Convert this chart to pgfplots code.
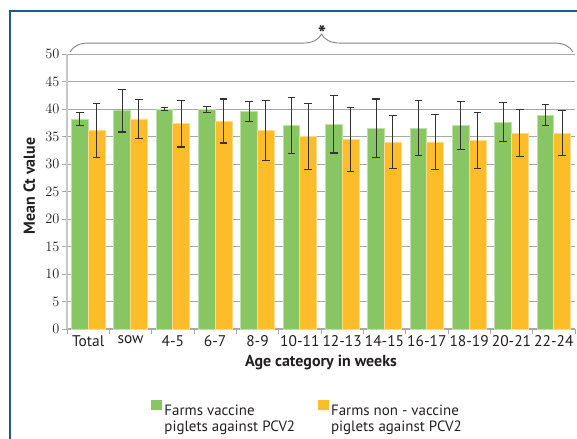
\documentclass[border=0pt]{standalone}
\usepackage{pgfplots}
\usepackage{pgfplotstable}
\pgfplotsset{compat=1.18}
\usepackage{fontspec}
\setmainfont{PT Sans}
\usetikzlibrary{decorations.pathreplacing}
\definecolor{vgreen}{HTML}{88C664}
\definecolor{vorange}{HTML}{FDBD2A}
\definecolor{frameblue}{HTML}{1B5A8C}
\definecolor{gridgray}{HTML}{A8A8A8}
\definecolor{txt}{HTML}{231F20}

\pgfplotstableread{
x y e
0 38.2 1.2
1 39.7 3.9
2 40.0 0.3
3 39.9 0.5
4 39.5 1.8
5 37.0 5.1
6 37.2 5.2
7 36.5 5.3
8 36.5 5.0
9 37.0 4.35
10 37.6 3.55
11 38.9 1.95
}\vacc

\pgfplotstableread{
x y e
0 36.1 4.9
1 38.2 3.55
2 37.3 4.2
3 37.8 4.0
4 36.1 5.4
5 35.0 6.0
6 34.5 5.8
7 34.0 4.75
8 34.0 4.95
9 34.3 5.1
10 35.6 4.3
11 35.6 4.1
}\nonvacc

\begin{document}
\begin{tikzpicture}[x=1bp,y=1bp]
\path[use as bounding box] (0,0) rectangle (577,439);
\draw[frameblue, line width=2.5bp] (10,0) -- (10,428) -- (578,428);
\begin{axis}[
  at={(67bp,110bp)}, anchor=south west,
  scale only axis, width=508bp, height=275bp,
  ybar=0pt, bar width=0.395,
  xmin=-0.5, xmax=11.5, ymin=0, ymax=50,
  ytick={0,5,...,50},
  xtick={-0.5,0.5,...,11.5}, xticklabels={},
  extra x ticks={0,1,...,11},
  extra x tick labels={Total,sow,4-5,6-7,8-9,10-11,12-13,14-15,16-17,18-19,20-21,22-24},
  extra x tick style={major tick length=0pt, tick label style={yshift=-3bp}},
  axis lines=left, axis line style={-},
  y axis line style={draw=black!22, line width=2bp},
  x axis line style={draw=gridgray, line width=1bp},
  tick align=outside, major tick length=5bp,
  tick style={draw=gridgray, line width=0.8bp},
  ymajorgrids, grid style={draw=gridgray, line width=0.8bp},
  tick label style={font=\fontsize{15.5}{18}\selectfont, text=txt},
  yticklabel style={xshift=1bp},
  ylabel={Mean Ct value},
  ylabel style={font=\fontsize{16}{18}\selectfont\bfseries, text=txt, at={(axis description cs:-0.074,0.52)}, anchor=center},
  xlabel={Age category in weeks},
  xlabel style={font=\fontsize{16}{18}\selectfont\bfseries, text=txt, at={(axis description cs:0.5,-0.122)}, anchor=center},
  legend columns=2,
  legend cell align=left,
  legend style={at={(axis description cs:0.16,-0.252)}, anchor=north west, draw=none, fill=none,
    font=\fontsize{15}{16}\selectfont, text=txt,
    /tikz/every even column/.append style={column sep=21bp}},
  legend image code/.code={\fill[#1,draw=none] (0bp,0bp) rectangle (11bp,10bp);},
  clip=false,
]
\addplot[fill=vgreen, draw=vgreen!55!white, line width=0.7bp,
  error bars/.cd, y dir=both, y explicit,
  error bar style={line width=1.2bp, draw=black!80},
  error mark options={rotate=90, mark size=3.8bp, line width=1.2bp, draw=black!80}]
  table[x=x, y=y, y error=e]{\vacc};
\addlegendentry{\begin{tabular}[t]{@{}l@{}}Farms vaccine\\piglets against PCV2\end{tabular}}
\addplot[fill=vorange, draw=vorange!55!white, line width=0.7bp,
  error bars/.cd, y dir=both, y explicit,
  error bar style={line width=1.2bp, draw=black!80},
  error mark options={rotate=90, mark size=3.8bp, line width=1.2bp, draw=black!80}]
  table[x=x, y=y, y error=e]{\nonvacc};
\addlegendentry{\begin{tabular}[t]{@{}l@{}}Farms non - vaccine\\piglets against PCV2\end{tabular}}
\draw[decorate, decoration={brace, amplitude=18bp}, draw=gray, line width=0.9bp]
  (rel axis cs:0.006,1.007) -- (rel axis cs:0.996,1.007);
\node[font=\fontsize{22}{24}\selectfont\bfseries, text=txt] at (rel axis cs:0.502,1.075) {*};
\end{axis}
\end{tikzpicture}
\end{document}
